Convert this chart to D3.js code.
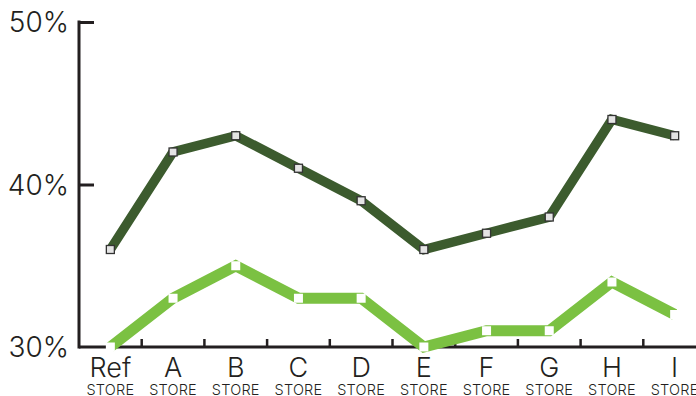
<!DOCTYPE html>
<html>
<head>
<meta charset="utf-8">
<script src="https://cdn.jsdelivr.net/npm/d3@7"></script>
<style>
  html, body { margin: 0; padding: 0; background: #fff; }
  svg { display: block; font-family: Inter, "Noto Sans", sans-serif; font-weight: 300; }
</style>
</head>
<body>
<svg id="chart" width="696" height="396"></svg>
<script>
const categories = ["Ref", "A", "B", "C", "D", "E", "F", "G", "H", "I"];
const subLabel = "STORE";
const darkSeries = [36, 42, 43, 41, 39, 36, 37, 38, 44, 43];
const lightSeries = [30, 33, 35, 33, 33, 30, 31, 31, 34, 32];
const yTicks = [30, 40, 50];

const svg = d3.select("#chart");
const mLeft = 79, mRight = 706, mTop = 22, mBottom = 347;

const x = d3.scaleBand().domain(categories).range([mLeft, mRight]).padding(0);
const y = d3.scaleLinear().domain([30, 50]).range([mBottom, mTop]);
const cx = d => x(d) + x.bandwidth() / 2;

const axisColor = "#231f20";

// Y axis
const yAxis = svg.append("g").attr("transform", `translate(${mLeft},0)`)
  .call(d3.axisRight(y).tickValues(yTicks).tickSize(15).tickFormat(""));
yAxis.select(".domain").remove();
yAxis.selectAll(".tick line").attr("stroke", axisColor).attr("stroke-width", 3);
yAxis.selectAll(".tick").filter(d => d === 30).remove();
svg.append("line").attr("x1", mLeft).attr("x2", mLeft).attr("y1", y(50) - 1.5).attr("y2", mBottom + 1.5)
  .attr("stroke", axisColor).attr("stroke-width", 3);
svg.append("g").selectAll("text").data(yTicks).join("text")
  .attr("x", 69).attr("y", d => y(d)).attr("dy", "0.36em")
  .attr("text-anchor", "end").attr("font-size", 28).attr("fill", "#231f20")
  .text(d => d + "%");

// X axis line and ticks (at band boundaries)
svg.append("line").attr("x1", mLeft).attr("x2", mRight).attr("y1", mBottom).attr("y2", mBottom)
  .attr("stroke", axisColor).attr("stroke-width", 3);
svg.append("g").selectAll("line").data(categories.slice(1)).join("line")
  .attr("x1", d => x(d)).attr("x2", d => x(d))
  .attr("y1", mBottom).attr("y2", mBottom - 8)
  .attr("stroke", axisColor).attr("stroke-width", 2.5);

const xl = svg.append("g");
xl.selectAll("text.cat").data(categories).join("text").attr("class", "cat")
  .attr("x", d => cx(d)).attr("y", 377)
  .attr("text-anchor", "middle").attr("font-size", 27).attr("fill", "#231f20")
  .text(d => d);
xl.selectAll("text.sub").data(categories).join("text").attr("class", "sub")
  .attr("x", d => cx(d)).attr("y", 394.5)
  .attr("text-anchor", "middle").attr("font-size", 14.5).attr("fill", "#231f20")
  .attr("letter-spacing", 0.2)
  .text(subLabel);

// Lines
const line = d3.line().x((d, i) => cx(categories[i])).y(d => y(d));

svg.append("path").datum(lightSeries).attr("d", line)
  .attr("fill", "none").attr("stroke", "#7bc142").attr("stroke-width", 11)
  .attr("stroke-linejoin", "miter");
svg.append("g").selectAll("rect").data(lightSeries).join("rect")
  .attr("x", (d, i) => cx(categories[i]) - 4.5).attr("y", d => y(d) - 4.5)
  .attr("width", 9).attr("height", 9).attr("fill", "#ffffff");

svg.append("path").datum(darkSeries).attr("d", line)
  .attr("fill", "none").attr("stroke", "#3c5b2e").attr("stroke-width", 9.5)
  .attr("stroke-linejoin", "miter");
svg.append("g").selectAll("rect").data(darkSeries).join("rect")
  .attr("x", (d, i) => cx(categories[i]) - 4).attr("y", d => y(d) - 4)
  .attr("width", 8).attr("height", 8)
  .attr("fill", "#e4e4e4").attr("stroke", "#333").attr("stroke-width", 1.3);
</script>
</body>
</html>
